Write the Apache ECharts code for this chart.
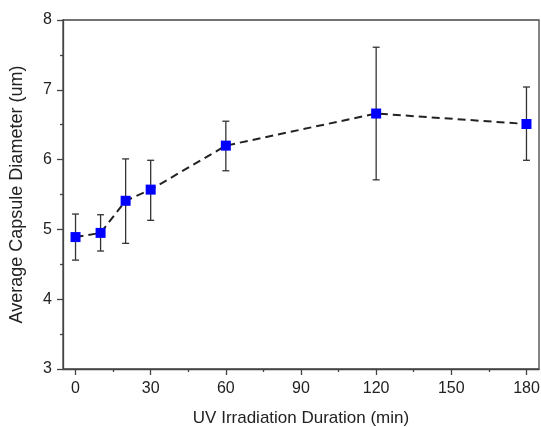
<!DOCTYPE html>
<html><head><meta charset="utf-8">
<script src="https://cdn.jsdelivr.net/npm/echarts@6/dist/echarts.min.js"></script>
<style>html,body{margin:0;padding:0;background:#fff}#c{width:541px;height:427px}</style>
</head><body><div id="c"></div>
<script>
const durations = [0, 10, 20, 30, 60, 120, 180];
const meanDiameter = [4.89, 4.95, 5.41, 5.57, 6.20, 6.66, 6.51];
const errLow = [4.56, 4.69, 4.80, 5.13, 5.84, 5.71, 5.99];
const errHigh = [5.22, 5.21, 6.01, 5.99, 6.55, 7.61, 7.04];
const xMajorTicks = [0, 30, 60, 90, 120, 150, 180];
const xMinorTicks = [15, 45, 75, 105, 135, 165];

const font = 'Liberation Sans, Arial, sans-serif';
const axisColor = '#444';
const chart = echarts.init(document.getElementById('c'));
chart.setOption({
  animation: false,
  grid: {left: 63, right: 2, top: 20, bottom: 58, show: true, borderColor: axisColor, borderWidth: 1.3, backgroundColor: 'transparent', containLabel: false, outerBoundsMode: 'none'},
  xAxis: [{
    type: 'value', min: -5, max: 185, position: 'bottom',
    name: 'UV Irradiation Duration (min)', nameLocation: 'middle', nameGap: 41,
    nameTextStyle: {fontFamily: font, fontSize: 17, color: '#222'},
    axisLine: {onZero: false, lineStyle: {color: axisColor, width: 1.3}},
    axisTick: {show: true, inside: false, length: 6, customValues: xMajorTicks, lineStyle: {color: axisColor, width: 1.3}},
    axisLabel: {customValues: xMajorTicks, margin: 12, fontFamily: font, fontSize: 16, color: '#222'},
    splitLine: {show: false}
  }, {
    type: 'value', min: -5, max: 185, position: 'bottom', offset: 0,
    axisLine: {show: false, onZero: false},
    axisTick: {show: true, inside: false, length: 3, customValues: xMinorTicks, lineStyle: {color: axisColor, width: 1.3}},
    axisLabel: {show: false},
    splitLine: {show: false}
  }],
  yAxis: {
    type: 'value', min: 3, max: 8, interval: 1, position: 'left',
    name: 'Average Capsule Diameter (um)', nameLocation: 'middle', nameGap: 37,
    nameTextStyle: {fontFamily: font, fontSize: 18, color: '#222'},
    axisLine: {show: true, onZero: false, lineStyle: {color: axisColor, width: 1.3}},
    axisTick: {show: true, inside: false, length: 6, lineStyle: {color: axisColor, width: 1.3}},
    minorTick: {show: true, splitNumber: 2, length: 3, lineStyle: {color: axisColor, width: 1.3}},
    axisLabel: {margin: 11, fontFamily: font, fontSize: 16, color: '#222'},
    splitLine: {show: false}
  },
  series: [{
    type: 'custom',
    xAxisIndex: 0,
    z: 2,
    data: durations.map((d, i) => [d, errLow[i], errHigh[i]]),
    renderItem: function (params, api) {
      const x = api.value(0);
      const lo = api.coord([x, api.value(1)]);
      const hi = api.coord([x, api.value(2)]);
      const hw = 3.5;
      const st = {stroke: '#333', lineWidth: 1.3};
      return {type: 'group', children: [
        {type: 'line', shape: {x1: lo[0], y1: lo[1], x2: hi[0], y2: hi[1]}, style: st},
        {type: 'line', shape: {x1: lo[0] - hw, y1: lo[1], x2: lo[0] + hw, y2: lo[1]}, style: st},
        {type: 'line', shape: {x1: hi[0] - hw, y1: hi[1], x2: hi[0] + hw, y2: hi[1]}, style: st}
      ]};
    }
  }, {
    type: 'line',
    xAxisIndex: 0,
    z: 3,
    data: durations.map((d, i) => [d, meanDiameter[i]]),
    symbol: 'rect', symbolSize: 10,
    itemStyle: {color: '#0000ff'},
    lineStyle: {color: '#222', width: 2, type: [8, 5]}
  }]
});
</script></body></html>
